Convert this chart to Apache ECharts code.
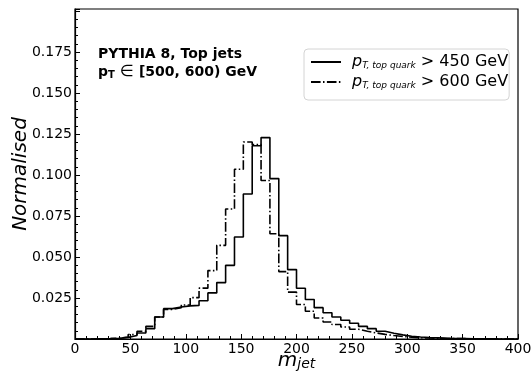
<!DOCTYPE html>
<html><head><meta charset="utf-8">
<script src="https://cdn.jsdelivr.net/npm/echarts@6/dist/echarts.min.js"></script>
<style>html,body{margin:0;padding:0;background:#fff}#c{width:531px;height:373px}</style>
</head><body><div id="c"></div>
<script>
const binEdges = [0,8,16,24,32,40,48,56,64,72,80,88,96,104,112,120,128,136,144,152,160,168,176,184,192,200,208,216,224,232,240,248,256,264,272,280,288,296,304,312,320,328,336,344,352,360,368,376,384,392,400];
const pt450 = [0, 0, 0.0001, 0.0002, 0.0004, 0.0010, 0.0021, 0.0037, 0.0063, 0.0134,
  0.0185, 0.0195, 0.0202, 0.0205, 0.0233, 0.0281, 0.0344, 0.0449, 0.0622, 0.0884,
  0.1178, 0.1228, 0.0978, 0.0630, 0.0423, 0.0309, 0.0241, 0.0191, 0.0160, 0.0134,
  0.0114, 0.0096, 0.0077, 0.0063, 0.0047, 0.0035, 0.0025, 0.0017, 0.0012, 0.0009,
  0.0007, 0.0005, 0.0003, 0.0002, 0.0001, 0.0001, 0.0001, 0, 0, 0];
const pt600 = [0, 0, 0.0001, 0.0002, 0.0005, 0.0012, 0.0027, 0.0047, 0.0077, 0.0134,
  0.0180, 0.0191, 0.0207, 0.0252, 0.0310, 0.0417, 0.0571, 0.0793, 0.1035, 0.1201,
  0.1185, 0.0966, 0.0642, 0.0411, 0.0286, 0.0210, 0.0169, 0.0128, 0.0104, 0.0088,
  0.0073, 0.0059, 0.0047, 0.0037, 0.0028, 0.0021, 0.0015, 0.0011, 0.0008, 0.0006,
  0.0004, 0.0003, 0.0002, 0.0002, 0.0001, 0.0001, 0, 0, 0, 0];
const xTickLabels = ['0','50','100','150','200','250','300','350','400'];
const yTickLabels = ['0.025','0.050','0.075','0.100','0.125','0.150','0.175'];
const seriesNames = ['pt450', 'pt600'];
const thresholds = ['450', '600'];

const FONT = "'DejaVu Sans', sans-serif";
function stepData(vals) {
  return binEdges.map((e, i) => [e, vals[Math.min(i, vals.length - 1)]]);
}
const chart = echarts.init(document.getElementById('c'), null, {renderer: 'canvas'});
const axisCommon = {
  axisLine: {show: true, lineStyle: {color: '#000', width: 1.2}},
  axisTick: {show: true, inside: true, length: 5, lineStyle: {color: '#000', width: 1}},
  minorTick: {show: true, splitNumber: 5, length: 3, lineStyle: {color: '#000', width: 1}},
  splitLine: {show: false},
  minorSplitLine: {show: false},
  nameMoveOverlap: false
};
chart.setOption({
  animation: false,
  backgroundColor: '#fff',
  grid: {left: 75, right: 13, top: 9, bottom: 34, show: true, borderColor: '#000', borderWidth: 1.2, outerBoundsMode: 'none', containLabel: false},
  xAxis: Object.assign({
    type: 'value', min: 0, max: 400, interval: 50,
    axisLabel: {fontFamily: FONT, fontSize: 14, color: '#000', margin: 3,
      formatter: v => { const s = String(Math.round(v)); return xTickLabels.includes(s) ? s : ''; }},
    name: '{m|m}{j|jet}', nameLocation: 'middle', nameGap: 12,
    nameTextStyle: {fontFamily: FONT, color: '#000', rich: {
      m: {fontFamily: FONT, fontSize: 20, fontStyle: 'italic', color: '#000', lineHeight: 20},
      j: {fontFamily: FONT, fontSize: 14, fontStyle: 'italic', color: '#000', lineHeight: 14, verticalAlign: 'bottom'}
    }}
  }, axisCommon),
  yAxis: Object.assign({
    type: 'value', min: 0, max: 0.2012, interval: 0.025,
    axisLabel: {fontFamily: FONT, fontSize: 14, color: '#000', margin: 3, showMaxLabel: false,
      formatter: v => { const s = v.toFixed(3); return yTickLabels.includes(s) ? s : ''; }},
    name: 'Normalised', nameLocation: 'middle', nameGap: 44,
    nameTextStyle: {fontFamily: FONT, fontSize: 20, fontStyle: 'italic', color: '#000'}
  }, axisCommon),
  legend: {
    orient: 'vertical', left: 304, top: 49,
    padding: [5, 1, 10, 6], itemGap: 4, itemWidth: 30, itemHeight: 14,
    borderColor: '#d4d4d4', borderWidth: 1, borderRadius: 4, backgroundColor: '#fff',
    itemStyle: {opacity: 0, color: 'transparent', borderColor: 'transparent', borderWidth: 0},
    data: seriesNames,
    formatter: name => `{p|p}{s|T, top quark}{t| > ${thresholds[seriesNames.indexOf(name)]} GeV}`,
    textStyle: {fontFamily: FONT, fontSize: 14, color: '#000', rich: {
      p: {fontFamily: FONT, fontSize: 16, fontStyle: 'italic', color: '#000', lineHeight: 16, padding: [0, 0, 0, 6]},
      s: {fontFamily: FONT, fontSize: 9, fontStyle: 'italic', color: '#000', lineHeight: 10, verticalAlign: 'bottom'},
      t: {fontFamily: FONT, fontSize: 16, color: '#000', lineHeight: 16}
    }}
  },
  graphic: [
    {type: 'text', left: 98, top: 47, style: {text: 'PYTHIA 8, Top jets', fontFamily: FONT, fontSize: 14, fontWeight: 'bold', fill: '#000'}},
    {type: 'text', left: 98, top: 64, style: {
      text: '{p|p}{s|T}{e| ∈ }{t|[500, 600) GeV}',
      rich: {
        p: {fontFamily: FONT, fontSize: 14, fontWeight: 'bold', fill: '#000', lineHeight: 16},
        s: {fontFamily: FONT, fontSize: 10, fontWeight: 'bold', fill: '#000', lineHeight: 10, verticalAlign: 'bottom'},
        e: {fontFamily: FONT, fontSize: 16, fill: '#000', lineHeight: 16},
        t: {fontFamily: FONT, fontSize: 14, fontWeight: 'bold', fill: '#000', lineHeight: 16}
      }
    }}
  ],
  series: [
    {name: seriesNames[0], type: 'line', step: 'end', data: stepData(pt450), showSymbol: false, symbol: 'none',
      lineStyle: {color: '#000', width: 1.6, type: 'solid'}, itemStyle: {color: '#000'}},
    {name: seriesNames[1], type: 'line', step: 'end', data: stepData(pt600), showSymbol: false, symbol: 'none',
      lineStyle: {color: '#000', width: 1.6, type: [9.6, 2.4, 1.5, 2.4]}, itemStyle: {color: '#000'}}
  ]
});
</script>
</body></html>
